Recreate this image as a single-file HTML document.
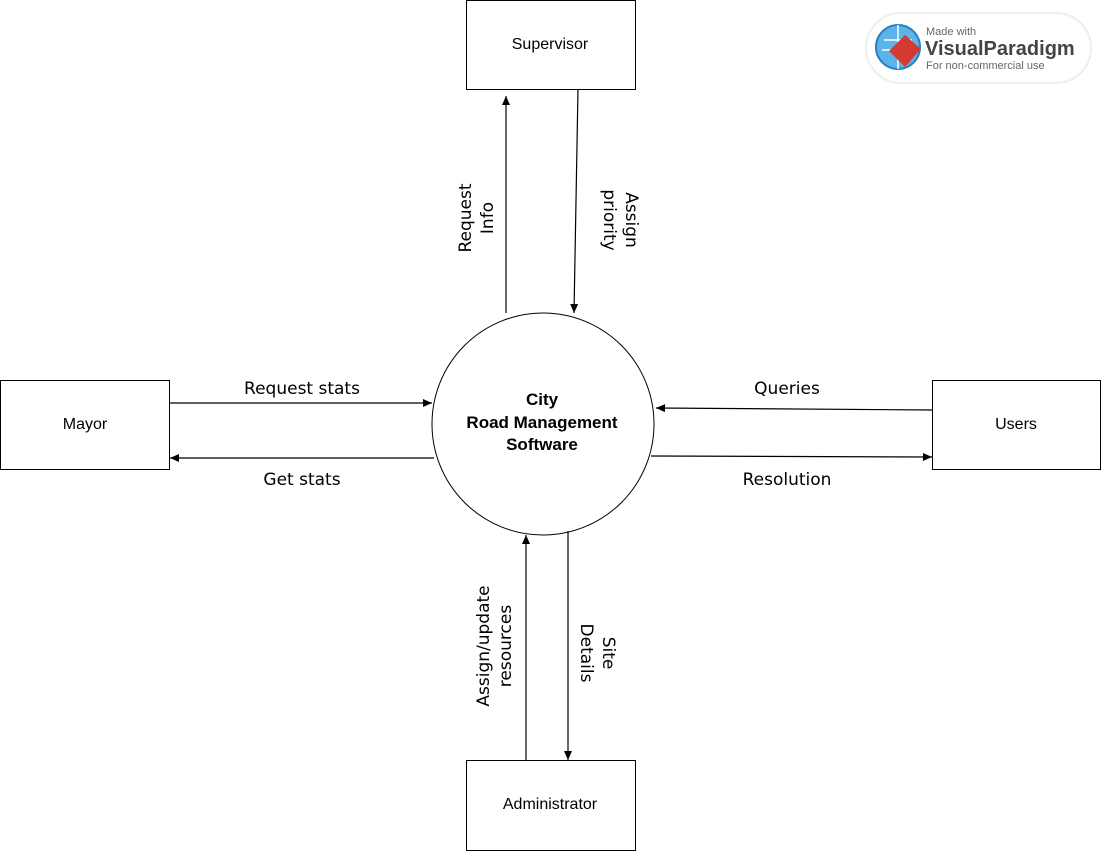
<!DOCTYPE html>
<html><head><meta charset="utf-8"><style>
html,body{margin:0;padding:0;background:#fff;}
svg{display:block;}
text{font-family:"Liberation Sans","DejaVu Sans",sans-serif;fill:#000;}
.l{font-family:"DejaVu Sans","Liberation Sans",sans-serif;font-size:17px;}
</style></head><body>
<svg width="1101" height="852" viewBox="0 0 1101 852" xmlns="http://www.w3.org/2000/svg">
<defs>
<marker id="a" markerWidth="10" markerHeight="10" refX="9" refY="5" orient="auto" markerUnits="userSpaceOnUse">
<path d="M0,1 L9,5 L0,9 Z" fill="#000"/></marker>
</defs>
<g fill="#fff" stroke="#000" stroke-width="1">
<rect x="466.5" y="0.5" width="169" height="89"/>
<rect x="0.5" y="380.5" width="169" height="89"/>
<rect x="932.5" y="380.5" width="168" height="89"/>
<rect x="466.5" y="760.5" width="169" height="90"/>
<circle cx="543" cy="424" r="111"/>
</g>
<g font-size="16" text-anchor="middle">
<text x="550" y="49">Supervisor</text>
<text x="85" y="429">Mayor</text>
<text x="1016" y="429">Users</text>
<text x="550" y="809">Administrator</text>
</g>
<g font-size="17" font-weight="bold" text-anchor="middle">
<text x="542" y="405">City</text>
<text x="542" y="428">Road  Management</text>
<text x="542" y="450">Software</text>
</g>
<g stroke="#000" stroke-width="1.2" fill="none">
<line x1="506" y1="313" x2="506" y2="96" marker-end="url(#a)"/>
<line x1="578" y1="89" x2="574" y2="313" marker-end="url(#a)"/>
<line x1="169" y1="403" x2="432" y2="403" marker-end="url(#a)"/>
<line x1="434" y1="458" x2="170" y2="458" marker-end="url(#a)"/>
<line x1="932" y1="410" x2="656" y2="408" marker-end="url(#a)"/>
<line x1="651" y1="456" x2="932" y2="457" marker-end="url(#a)"/>
<line x1="526" y1="760" x2="526" y2="535" marker-end="url(#a)"/>
<line x1="568" y1="531" x2="568" y2="760" marker-end="url(#a)"/>
</g>
<g class="l" text-anchor="middle">
<text class="l" x="302" y="394">Request stats</text>
<text class="l" x="302" y="485">Get stats</text>
<text class="l" x="787" y="394">Queries</text>
<text class="l" x="787" y="485">Resolution</text>
<text class="l" transform="translate(471,218) rotate(-90)">Request</text>
<text class="l" transform="translate(493,218) rotate(-90)">Info</text>
<text class="l" transform="translate(626,220) rotate(90)">Assign</text>
<text class="l" transform="translate(604,220) rotate(90)">priority</text>
<text class="l" transform="translate(489,646) rotate(-90)">Assign/update</text>
<text class="l" transform="translate(511,646) rotate(-90)">resources</text>
<text class="l" transform="translate(603,653) rotate(90)">Site</text>
<text class="l" transform="translate(581,653) rotate(90)">Details</text>
</g>
<g>
<rect x="866" y="13" width="225" height="70" rx="35" fill="#fff" stroke="#eee" stroke-width="2"/>
<circle cx="898" cy="47" r="22" fill="#5bb4e8" stroke="#2a7fbf" stroke-width="2"/>
<path d="M884,40 h28 M882,50 h32 M898,25 v44" stroke="#fff" stroke-width="1.5"/>
<path d="M905,35 l16,14 -16,18 -16,-16 z" fill="#d43a2f"/>
<text x="926" y="35" font-size="11" fill="#666" style="fill:#666">Made with</text>
<text x="925" y="55" font-size="20" font-weight="bold" style="fill:#444">VisualParadigm</text>
<text x="926" y="69" font-size="11" style="fill:#666">For non-commercial use</text>
</g>
</svg>
</body></html>
